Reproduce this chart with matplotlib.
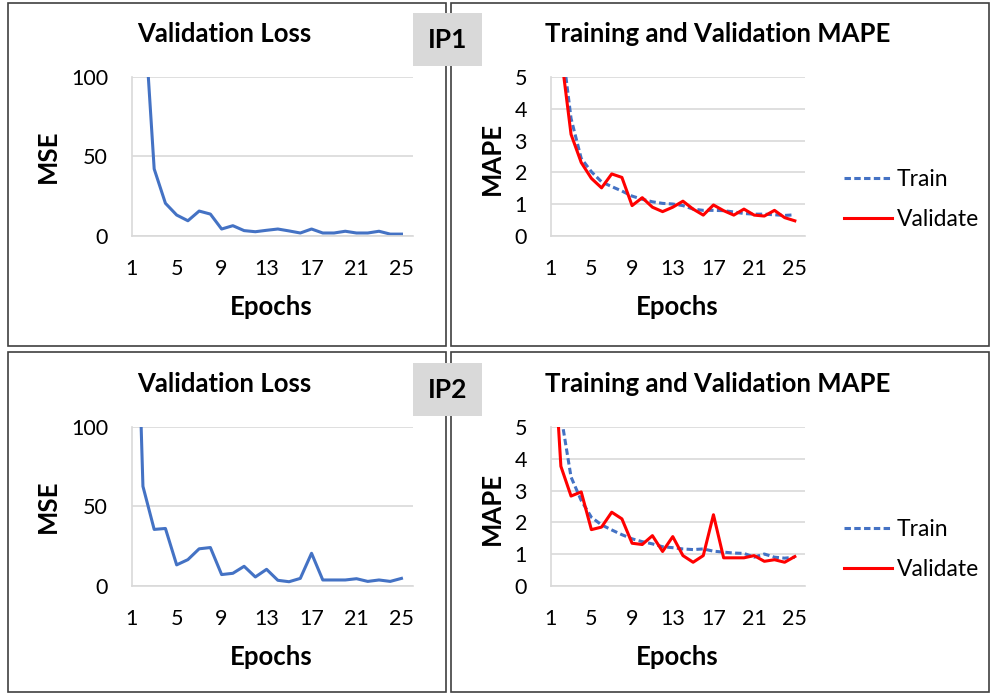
import matplotlib
matplotlib.use("Agg")
import matplotlib.pyplot as plt
from matplotlib.patches import Rectangle

plt.rcParams['font.family'] = ['Lato', 'DejaVu Sans']

# ---- data ----
epochs = list(range(1, 26))
xticks = [1, 5, 9, 13, 17, 21, 25]

ip1_loss = [400, 153, 42, 20.4, 13, 9.4, 15.5, 13.6, 4.2, 6.3, 3.2, 2.5, 3.4,
            4.2, 3.0, 1.7, 4.2, 1.7, 1.7, 2.8, 1.7, 1.7, 2.8, 1.0, 1.0]
ip1_train = [9.0, 6.3, 3.7, 2.44, 2.02, 1.7, 1.55, 1.41, 1.25, 1.15, 1.07, 1.02, 1.0,
             0.95, 0.84, 0.8, 0.8, 0.79, 0.75, 0.7, 0.68, 0.68, 0.66, 0.64, 0.66]
ip1_val = [9.0, 5.77, 3.2, 2.31, 1.81, 1.51, 1.95, 1.84, 0.95, 1.2, 0.9, 0.76, 0.9,
           1.09, 0.84, 0.65, 0.97, 0.79, 0.65, 0.84, 0.65, 0.62, 0.8, 0.57, 0.47]

ip2_loss = [297, 62.5, 35.4, 36, 13.1, 16.4, 23.2, 24, 7, 7.8, 12.2, 5.5, 10.3,
            3.4, 2.5, 4.6, 20.4, 3.6, 3.6, 3.6, 4.4, 2.7, 3.6, 2.7, 4.6]
ip2_train = [8.0, 5.4, 3.43, 2.69, 2.16, 1.92, 1.76, 1.61, 1.48, 1.39, 1.32, 1.23, 1.2,
             1.16, 1.14, 1.16, 1.09, 1.06, 1.03, 1.02, 0.9, 1.0, 0.9, 0.87, 0.9]
ip2_val = [9.1, 3.77, 2.83, 2.96, 1.77, 1.85, 2.32, 2.11, 1.34, 1.3, 1.58, 1.08, 1.55,
           0.95, 0.74, 0.95, 2.24, 0.88, 0.88, 0.88, 0.95, 0.77, 0.82, 0.74, 0.92]

W, H = 990, 693
fig = plt.figure(figsize=(W / 100, H / 100), dpi=100)

BLUE = '#4472C4'
RED = '#FF0000'
GRID = '#D9D9D9'
BOLD = 18.5


def fx(x):
    return x / W


def fy(y):
    return 1 - y / H


def make_axes(x0, y0, x1, y1, ymax, yticks):
    ax = fig.add_axes([fx(x0), fy(y1), fx(x1 - x0), (y1 - y0) / H])
    ax.set_xlim(1, 26)
    ax.set_ylim(0, ymax)
    ax.set_xticks(xticks)
    ax.set_yticks(yticks)
    ax.tick_params(length=0, labelsize=15.5, pad=17)
    ax.grid(axis='y', color=GRID, linewidth=1.2)
    ax.set_axisbelow(True)
    for s in ['top', 'right']:
        ax.spines[s].set_visible(False)
    for s in ['left', 'bottom']:
        ax.spines[s].set_color(GRID)
        ax.spines[s].set_linewidth(1.2)
    return ax


# panel borders
for (x0, y0, x1, y1) in [(8, 3, 446, 346), (451, 3, 989, 346),
                         (8, 352, 446, 692), (451, 352, 989, 692)]:
    fig.patches.append(Rectangle((fx(x0), fy(y1)), fx(x1 - x0), (y1 - y0) / H,
                                 transform=fig.transFigure, fill=False,
                                 edgecolor='#404040', linewidth=1.2))

rows = [(0, 'IP1', ip1_loss, ip1_train, ip1_val),
        (350, 'IP2', ip2_loss, ip2_train, ip2_val)]

for dy, name, loss, train, val in rows:
    # loss panel
    ax1 = make_axes(131.7, 76.7 + dy, 412.7, 235.7 + dy, 100, [0, 50, 100])
    ax1.plot(epochs, loss, color=BLUE, linewidth=2.2)
    fig.text(fx(224.5), fy(34 + dy), 'Validation Loss', fontsize=BOLD,
             fontweight='bold', ha='center', va='center')
    fig.text(fx(48), fy(156 + dy), 'MSE', fontsize=BOLD, fontweight='bold',
             rotation=90, ha='center', va='center')
    fig.text(fx(271), fy(307 + dy), 'Epochs', fontsize=BOLD, fontweight='bold',
             ha='center', va='center')

    # MAPE panel
    ax2 = make_axes(550.7, 77.3 + dy, 805, 235.7 + dy, 5, [0, 1, 2, 3, 4, 5])
    ax2.plot(epochs, train, color=BLUE, linewidth=2.2, dashes=(2.1, 1.1),
             label='Train')
    ax2.plot(epochs, val, color=RED, linewidth=2.2, label='Validate')
    ax2.legend(loc='center left', bbox_to_anchor=((844 - 550.7) / 254.3, 0.228),
               frameon=False, fontsize=16.5, handlelength=2.1, handletextpad=0.2,
               labelspacing=0.85, borderpad=0, borderaxespad=0)
    fig.text(fx(717.5), fy(34 + dy), 'Training and Validation MAPE', fontsize=BOLD,
             fontweight='bold', ha='center', va='center')
    fig.text(fx(492), fy(158 + dy), 'MAPE', fontsize=BOLD, fontweight='bold',
             rotation=90, ha='center', va='center')
    fig.text(fx(677), fy(307 + dy), 'Epochs', fontsize=BOLD, fontweight='bold',
             ha='center', va='center')

    # IP label box
    fig.patches.append(Rectangle((fx(413), fy(66 + dy)), fx(69), 53 / H,
                                 transform=fig.transFigure, facecolor='#D9D9D9',
                                 edgecolor='none', zorder=5))
    fig.text(fx(447.5), fy(40 + dy), name, fontsize=19, fontweight='bold',
             ha='center', va='center', zorder=6)

fig.savefig('out.png', dpi=100)
